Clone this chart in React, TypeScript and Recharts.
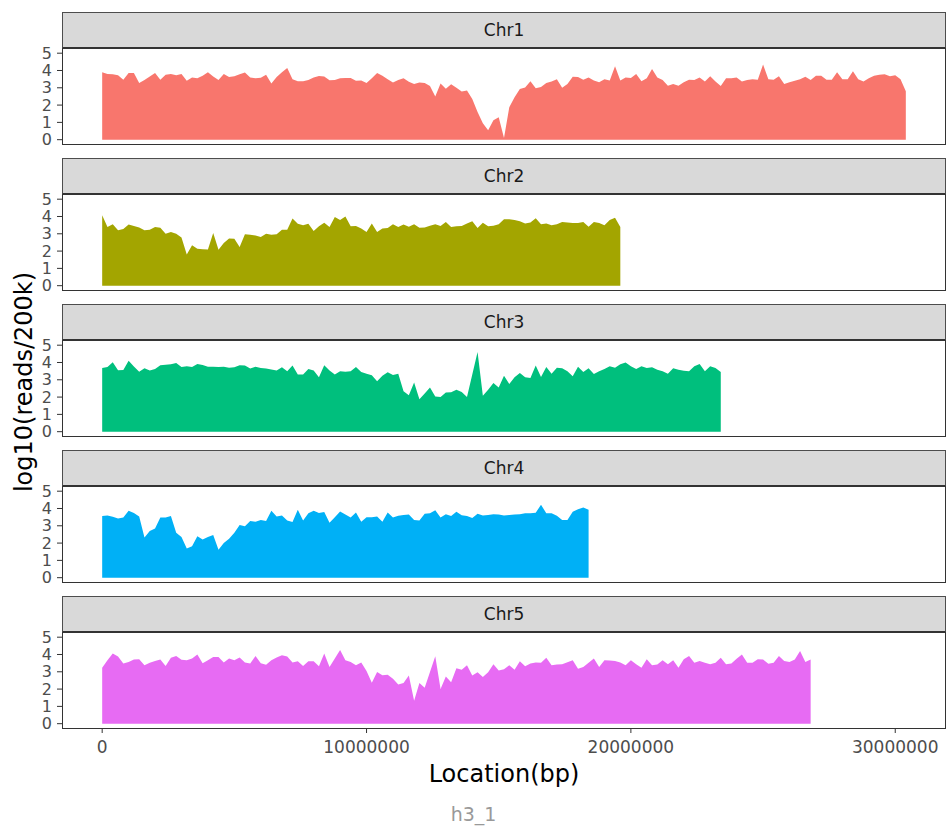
import { AreaChart, Area, XAxis, YAxis } from 'recharts';

// log10(reads / 200k bin), one value per 200 kb bin starting at 0
const STEP = 200000;

const CHR1 = [
  3.9, 3.8, 3.78, 3.72, 3.47, 3.85, 3.85, 3.28, 3.45, 3.65,
  3.85, 3.47, 3.75, 3.8, 3.72, 3.8, 3.4, 3.6, 3.55, 3.7,
  3.9, 3.65, 3.45, 3.8, 3.62, 3.66, 3.78, 3.88, 3.6, 3.55,
  3.58, 3.75, 3.25, 3.62, 3.9, 4.15, 3.5, 3.38, 3.38, 3.45,
  3.6, 3.68, 3.65, 3.43, 3.45, 3.55, 3.57, 3.56, 3.4, 3.42,
  3.28, 3.55, 3.85, 3.7, 3.5, 3.3, 3.45, 3.55, 3.35, 3.22,
  3.3, 3.28, 3.1, 2.5, 3.25, 2.95, 3.2, 3.0, 2.78, 2.85,
  2.35, 1.6, 0.95, 0.55, 1.12, 1.3, 0.1, 1.87, 2.45, 2.93,
  3.02, 3.38, 2.98, 3.05, 3.28, 3.37, 3.5, 3.0, 3.22, 3.64,
  3.63, 3.47, 3.6, 3.42, 3.32, 3.5, 3.42, 4.25, 3.42, 3.6,
  3.57, 3.8, 3.38, 3.55, 4.09, 3.6, 3.45, 3.12, 3.22, 3.12,
  3.32, 3.47, 3.45, 3.6, 3.36, 3.66, 3.36, 3.1, 3.55, 3.55,
  3.6, 3.36, 3.45, 3.5, 3.47, 4.34, 3.5, 3.47, 3.66, 3.22,
  3.32, 3.4, 3.5, 3.64, 3.45, 3.7, 3.7, 3.47, 3.47, 3.9,
  3.5, 3.5, 3.95, 3.5, 3.36, 3.55, 3.7, 3.76, 3.78, 3.66,
  3.72, 3.5, 2.8,
];

const CHR2 = [
  4.07, 3.39, 3.55, 3.2, 3.27, 3.53, 3.45, 3.37, 3.2, 3.24,
  3.39, 3.35, 3.0, 3.1, 3.0, 2.78, 1.8, 2.33, 2.13, 2.1,
  2.09, 3.04, 2.07, 2.46, 2.73, 2.72, 2.23, 2.97, 2.95, 2.9,
  2.81, 3.0, 2.95, 2.97, 3.24, 3.24, 3.88, 3.58, 3.49, 3.58,
  3.16, 3.43, 3.64, 3.39, 3.97, 3.8, 4.0, 3.43, 3.45, 3.3,
  3.1, 3.59, 3.1, 3.3, 3.33, 3.55, 3.39, 3.53, 3.4, 3.55,
  3.35, 3.37, 3.47, 3.55, 3.45, 3.68, 3.39, 3.43, 3.45, 3.6,
  3.72, 3.33, 3.64, 3.43, 3.47, 3.55, 3.84, 3.84, 3.8, 3.72,
  3.6, 3.65, 3.9, 3.55, 3.59, 3.5, 3.55, 3.68, 3.65, 3.63,
  3.62, 3.68, 3.4, 3.68, 3.62, 3.5, 3.8, 3.93, 3.39,
];

const CHR3 = [
  3.68, 3.74, 4.01, 3.55, 3.57, 4.1, 3.77, 3.47, 3.66, 3.53,
  3.63, 3.84, 3.87, 3.9, 3.97, 3.74, 3.78, 3.74, 3.91, 3.86,
  3.76, 3.76, 3.74, 3.76, 3.7, 3.72, 3.84, 3.82, 3.65, 3.76,
  3.68, 3.65, 3.6, 3.53, 3.72, 3.5, 3.82, 3.3, 3.3, 3.62,
  3.53, 3.14, 3.84, 3.53, 3.3, 3.49, 3.47, 3.49, 3.74, 3.45,
  3.35, 3.26, 2.91, 3.24, 3.43, 3.28, 3.35, 2.33, 2.1, 2.85,
  1.88, 2.2, 2.56, 2.03, 2.0, 2.27, 2.28, 2.42, 2.3, 2.0,
  3.3, 4.61, 2.07, 2.42, 2.81, 2.55, 3.24, 2.75, 3.15, 3.39,
  3.14, 3.1, 3.82, 3.16, 3.74, 3.35, 3.7, 3.66, 3.49, 3.2,
  3.76, 3.45, 3.66, 3.33, 3.49, 3.62, 3.78, 3.7, 3.9, 4.0,
  3.78, 3.62, 3.78, 3.68, 3.72, 3.58, 3.49, 3.35, 3.66, 3.58,
  3.52, 3.49, 3.78, 3.91, 3.49, 3.78, 3.68, 3.45,
];

const CHR4 = [
  3.57, 3.6, 3.52, 3.42, 3.48, 3.87, 3.74, 3.54, 2.32, 2.7,
  2.85, 3.48, 3.48, 3.57, 2.6, 2.35, 1.68, 1.82, 2.4, 2.2,
  2.35, 2.46, 1.62, 2.01, 2.25, 2.6, 3.05, 2.98, 3.28, 3.24,
  3.34, 3.28, 3.87, 3.54, 3.6, 3.3, 3.22, 3.93, 3.3, 3.72,
  3.87, 3.74, 3.8, 3.18, 3.5, 3.83, 3.65, 3.48, 3.77, 3.24,
  3.5, 3.5, 3.53, 3.24, 3.77, 3.48, 3.58, 3.63, 3.65, 3.34,
  3.3, 3.7, 3.73, 3.9, 3.48, 3.67, 3.57, 3.81, 3.61, 3.57,
  3.45, 3.7, 3.6, 3.63, 3.67, 3.65, 3.6, 3.63, 3.65, 3.67,
  3.72, 3.73, 3.75, 4.22, 3.72, 3.72, 3.58, 3.34, 3.34, 3.81,
  3.96, 4.06, 3.92,
];

const CHR5 = [
  3.24, 3.67, 4.06, 3.88, 3.48, 3.57, 3.71, 3.73, 3.38, 3.52,
  3.63, 3.71, 3.34, 3.81, 3.91, 3.69, 3.67, 3.77, 4.0, 3.5,
  3.67, 3.86, 3.86, 3.54, 3.77, 3.67, 3.83, 3.54, 3.48, 3.91,
  3.5, 3.4, 3.67, 3.83, 3.96, 3.88, 3.54, 3.61, 3.34, 3.61,
  3.61, 3.32, 4.06, 3.28, 3.77, 4.26, 3.67, 3.57, 3.38, 3.54,
  3.05, 2.36, 2.99, 2.8, 2.83, 2.6, 2.27, 2.35, 2.79, 1.33,
  2.35, 2.07, 2.99, 3.9, 2.01, 2.73, 2.4, 3.2, 3.12, 3.38,
  2.79, 2.98, 2.7, 2.98, 3.44, 3.08, 3.14, 3.38, 3.12, 3.61,
  3.32, 3.48, 3.54, 3.52, 3.81, 3.38, 3.42, 3.44, 3.55, 3.67,
  3.18, 3.28, 3.52, 3.77, 3.28, 3.67, 3.65, 3.63, 3.54, 3.38,
  3.67, 3.44, 3.24, 3.73, 3.38, 3.42, 3.67, 3.44, 3.67, 3.24,
  3.73, 3.91, 3.52, 3.63, 3.52, 3.44, 3.52, 3.81, 3.44, 3.48,
  3.75, 4.0, 3.52, 3.52, 3.73, 3.71, 3.46, 3.52, 3.91, 3.63,
  3.57, 3.71, 4.2, 3.57, 3.71,
];

const CHROMS = ['Chr1', 'Chr2', 'Chr3', 'Chr4', 'Chr5'];
const SERIES = [CHR1, CHR2, CHR3, CHR4, CHR5];
const COLORS = ['#F8766D', '#A3A500', '#00BF7D', '#00B0F6', '#E76BF3'];
const X_TICKS = [0, 10000000, 20000000, 30000000];
const Y_TICKS = [0, 1, 2, 3, 4, 5];

// ggplot-like 5% expansion on the shared x scale
const X_MAX = Math.max(...SERIES.map((s) => (s.length - 1) * STEP));
const X_DOMAIN = [-0.05 * X_MAX, X_MAX * 1.05];
const Y_DOMAIN = [-0.25, 5.3];

const FONT = '"DejaVu Sans", sans-serif';
const TICK_FONT = 16;
const PANEL_LEFT = 62;
const PANEL_WIDTH = 884;
const PANEL_HEIGHT = 96;
const STRIP_HEIGHT = 37;
const FIRST_TOP = 12;
const FACET_STEP = 146;
const PAD = 10; // room so the outer tick labels are not clipped by the svg

function Facet({ index, showX }: { index: number; showX: boolean }) {
  const top = FIRST_TOP + index * FACET_STEP;
  const panelTop = top + STRIP_HEIGHT - 1;
  const rows = SERIES[index].map((v, i) => ({ pos: i * STEP, value: v }));
  const bottomPad = showX ? 0 : PAD;

  return (
    <>
      <div
        style={{
          position: 'absolute',
          left: PANEL_LEFT,
          top,
          width: PANEL_WIDTH,
          height: STRIP_HEIGHT,
          boxSizing: 'border-box',
          background: '#D9D9D9',
          border: '1px solid #4D4D4D',
          borderBottom: '2px solid #333',
          display: 'flex',
          alignItems: 'center',
          justifyContent: 'center',
          fontSize: 17,
          color: '#1A1A1A',
        }}
      >
        {CHROMS[index]}
      </div>
      <div style={{ position: 'absolute', left: 0, top: panelTop - PAD }}>
        <AreaChart
          width={PANEL_LEFT + PANEL_WIDTH + 1}
          height={PAD + PANEL_HEIGHT + (showX ? 40 : bottomPad)}
          data={rows}
          margin={{ top: PAD, right: 1, bottom: bottomPad, left: 0 }}
        >
          <XAxis
            dataKey="pos"
            type="number"
            domain={X_DOMAIN}
            allowDataOverflow
            ticks={X_TICKS}
            interval={0}
            hide={!showX}
            height={40}
            axisLine={false}
            tickSize={5}
            tickMargin={8}
            tickLine={{ stroke: '#333' }}
            tick={{ fill: '#4D4D4D', fontSize: 17, fontFamily: FONT }}
          />
          <YAxis
            type="number"
            domain={Y_DOMAIN}
            allowDataOverflow
            ticks={Y_TICKS}
            interval={0}
            width={PANEL_LEFT}
            axisLine={false}
            tickSize={5}
            tickMargin={5}
            tickLine={{ stroke: '#333' }}
            tick={{ fill: '#4D4D4D', fontSize: TICK_FONT, fontFamily: FONT }}
          />
          <Area
            dataKey="value"
            type="linear"
            baseValue={0}
            fill={COLORS[index]}
            fillOpacity={1}
            stroke="none"
            isAnimationActive={false}
          />
        </AreaChart>
      </div>
      <div
        style={{
          position: 'absolute',
          left: PANEL_LEFT,
          top: panelTop,
          width: PANEL_WIDTH,
          height: PANEL_HEIGHT + 1,
          boxSizing: 'border-box',
          border: '1px solid #333',
          pointerEvents: 'none',
        }}
      />
    </>
  );
}

export default function App() {
  return (
    <div
      style={{
        position: 'absolute',
        left: 0,
        top: 0,
        width: 947,
        height: 827,
        background: '#fff',
        fontFamily: FONT,
      }}
    >
      {CHROMS.map((name, i) => (
        <Facet key={name} index={i} showX={i === CHROMS.length - 1} />
      ))}
      <div
        style={{
          position: 'absolute',
          left: 24,
          top: 382,
          transform: 'translate(-50%, -50%) rotate(-90deg)',
          whiteSpace: 'nowrap',
          fontSize: 24,
          color: '#000',
        }}
      >
        log10(reads/200k)
      </div>
      <div
        style={{
          position: 'absolute',
          left: PANEL_LEFT,
          width: PANEL_WIDTH,
          top: 760,
          textAlign: 'center',
          fontSize: 24,
          color: '#000',
        }}
      >
        Location(bp)
      </div>
      <div
        style={{
          position: 'absolute',
          left: 0,
          width: 947,
          top: 803,
          textAlign: 'center',
          fontSize: 19,
          color: '#999',
        }}
      >
        h3_1
      </div>
    </div>
  );
}
